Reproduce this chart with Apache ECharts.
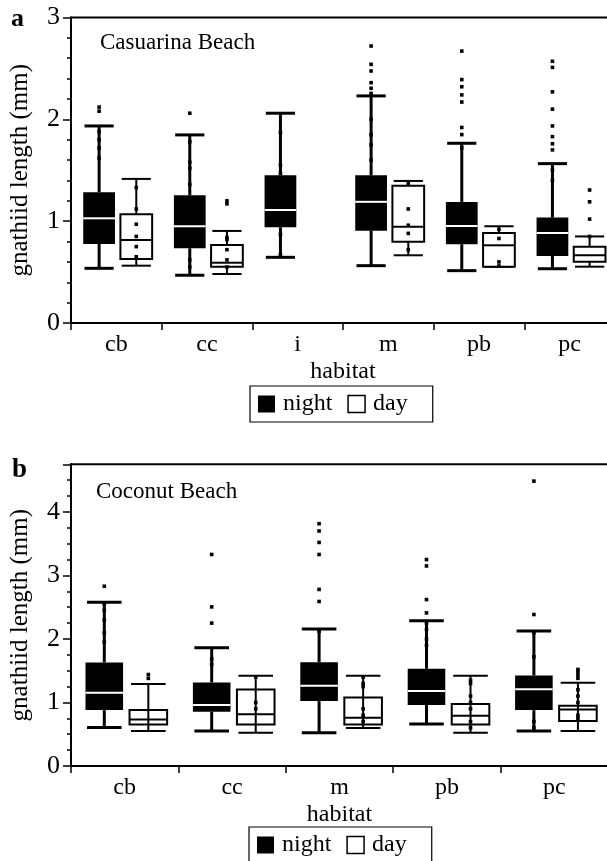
<!DOCTYPE html>
<html>
<head>
<meta charset="utf-8">
<script src="https://cdn.jsdelivr.net/npm/echarts@6/dist/echarts.min.js"></script>
<style>
html, body { margin: 0; padding: 0; background: #fff; }
#chart { width: 607px; height: 861px; }
</style>
</head>
<body>
<div id="chart"></div>
<script>
// panel a - Casuarina Beach
const habitatA = ['cb', 'cc', 'i', 'm', 'pb', 'pc'];
// [low whisker, q1, median, q3, high whisker]
const nightA = [
    [0.537, 0.776, 1.028, 1.284, 1.935],
    [0.469, 0.734, 0.95, 1.254, 1.847],
    [0.645, 0.94, 1.11, 1.45, 2.06],
    [0.563, 0.907, 1.19, 1.45, 2.23],
    [0.514, 0.773, 0.953, 1.189, 1.765],
    [0.533, 0.658, 0.884, 1.035, 1.565]
];
const dayA = [
    [0.563, 0.629, 0.815, 1.068, 1.415],
    [0.481, 0.553, 0.592, 0.766, 0.904],
    null,
    [0.665, 0.799, 0.946, 1.349, 1.395],
    [0.553, 0.553, 0.763, 0.884, 0.95],
    [0.553, 0.602, 0.665, 0.75, 0.85]
];
const nightDotsA = [
    [2.08, 2.12, 1.88, 1.80, 1.72, 1.62],
    [2.06, 1.78, 1.58, 1.52, 1.36, 0.62, 0.55],
    [1.87, 1.55, 1.47, 0.87, 0.67],
    [2.72, 2.54, 2.475, 2.36, 2.305, 2.255, 2.0, 1.85, 1.75, 1.6],
    [2.67, 2.39, 2.32, 2.24, 2.17, 1.92, 1.85, 1.72],
    [2.57, 2.51, 2.27, 2.10, 1.935, 1.83, 1.76, 1.70, 1.5, 1.4]
];
const dayDotsA = [
    [1.33, 1.12, 0.97, 0.85, 0.75, 0.65],
    [1.20, 1.17, 0.84, 0.82, 0.72, 0.62, 0.55],
    [],
    [1.37, 1.12, 0.96, 0.88, 0.72],
    [0.92, 0.83, 0.60, 0.56],
    [1.306, 1.19, 1.02, 0.85]
];

// panel b - Coconut Beach
const habitatB = ['cb', 'cc', 'm', 'pb', 'pc'];
const nightB = [
    [0.608, 0.88, 1.153, 1.63, 2.58],
    [0.55, 0.854, 0.959, 1.316, 1.86],
    [0.524, 1.022, 1.263, 1.635, 2.155],
    [0.66, 0.96, 1.18, 1.53, 2.285],
    [0.55, 0.88, 1.21, 1.425, 2.127]
];
const dayB = [
    [0.55, 0.655, 0.734, 0.88, 1.29],
    [0.524, 0.655, 0.813, 1.205, 1.42],
    [0.60, 0.655, 0.76, 1.08, 1.42],
    [0.524, 0.655, 0.79, 0.975, 1.42],
    [0.55, 0.71, 0.89, 0.95, 1.31]
];
const nightDotsB = [
    [2.83, 2.55, 2.45, 2.3, 2.1, 1.95],
    [3.33, 2.505, 2.25, 1.68, 1.6],
    [3.815, 3.70, 3.52, 3.33, 2.78, 2.59, 2.12],
    [3.25, 3.15, 2.62, 2.41, 2.25, 2.15, 2.0, 1.9],
    [4.485, 2.385, 2.1, 1.72, 0.7, 0.6]
];
const dayDotsB = [
    [1.44, 1.38],
    [1.4, 1.0, 0.9],
    [1.4, 1.3, 1.25, 0.9, 0.8, 0.7],
    [1.35, 1.3, 1.1, 1.0, 0.9, 0.7, 0.6],
    [1.52, 1.48, 1.43, 1.38, 1.2, 1.1, 1.0, 0.8, 0.75]
];

const yTicksA = [0, 1, 2, 3];
const yTicksB = [0, 1, 2, 3, 4];

const FONT = 'Liberation Serif';
const BOX_W = 0.35;
const OFFSET = { night: -0.19, day: 0.22 };

function boxData(list) {
    let out = [];
    list.forEach((b, i) => {
        if (b) out.push([i].concat(b));
    });
    return out;
}
function dotData(list) {
    let out = [];
    list.forEach((arr, i) => arr.forEach(v => out.push([i, v])));
    return out;
}

function boxRender(side, through) {
    return function (params, api) {
        const idx = api.value(0);
        const band = api.size([1, 0])[0];
        const w = band * BOX_W;
        const cx = api.coord([idx, 0])[0] + band * OFFSET[side];
        const y = [1, 2, 3, 4, 5].map(i => api.coord([idx, api.value(i)])[1]);
        const night = side === 'night';
        const lw = night ? 3 : 2;
        const cap = w * 0.92;
        const line = (x1, y1, x2, y2, color, width) => ({
            type: 'line',
            shape: { x1: x1, y1: y1, x2: x2, y2: y2 },
            style: { stroke: color, lineWidth: width }
        });
        let children = [
            line(cx, y[4], cx, y[3], '#000', lw),
            line(cx, y[1], cx, y[0], '#000', lw),
            line(cx - cap / 2, y[4], cx + cap / 2, y[4], '#000', lw),
            line(cx - cap / 2, y[0], cx + cap / 2, y[0], '#000', lw),
            {
                type: 'rect',
                shape: { x: cx - w / 2, y: y[3], width: w, height: y[1] - y[3] },
                style: night ? { fill: '#000' } : { fill: '#fff', stroke: '#000', lineWidth: 2 }
            }
        ];
        if (through) children.push(line(cx, y[3], cx, y[1], '#000', lw));
        children.push(line(cx - w / 2, y[2], cx + w / 2, y[2], night ? '#fff' : '#000', 2));
        return { type: 'group', children: children };
    };
}

function dotRender(side) {
    return function (params, api) {
        const idx = api.value(0);
        const band = api.size([1, 0])[0];
        const p = api.coord([idx, api.value(1)]);
        const cx = p[0] + band * OFFSET[side];
        return {
            type: 'rect',
            shape: { x: cx - 1.8, y: p[1] - 1.8, width: 3.6, height: 3.6 },
            style: { fill: '#000' }
        };
    };
}

function panelSeries(g, yIdx, nights, days, nDots, dDots, through) {
    return [
        {
            type: 'custom', name: 'night', xAxisIndex: g, yAxisIndex: yIdx, z: 2,
            renderItem: dotRender('night'), data: dotData(nDots)
        },
        {
            type: 'custom', name: 'night', xAxisIndex: g, yAxisIndex: yIdx, z: 3,
            itemStyle: { color: '#000' },
            renderItem: boxRender('night', false), data: boxData(nights),
            encode: { x: 0, y: [1, 2, 3, 4, 5] }
        },
        {
            type: 'custom', name: 'day', xAxisIndex: g, yAxisIndex: yIdx, z: 4,
            itemStyle: { color: '#fff', borderColor: '#000', borderWidth: 2 },
            renderItem: boxRender('day', through), data: boxData(days),
            encode: { x: 0, y: [1, 2, 3, 4, 5] }
        },
        {
            type: 'custom', name: 'day', xAxisIndex: g, yAxisIndex: yIdx, z: 5,
            renderItem: dotRender('day'), data: dotData(dDots)
        }
    ];
}

const txt = { color: '#000', fontFamily: FONT };
const axisLine = { show: true, lineStyle: { color: '#000', width: 2 } };

function catAxis(g, cats) {
    return {
        type: 'category', gridIndex: g, data: cats,
        name: 'habitat', nameLocation: 'middle', nameGap: 37,
        nameTextStyle: Object.assign({ fontSize: 24 }, txt),
        axisLine: axisLine,
        axisTick: { show: true, inside: false, length: 7, lineStyle: { color: '#000', width: 1.5 } },
        axisLabel: Object.assign({ fontSize: 24, margin: 10 }, txt),
        splitLine: { show: false }
    };
}

function legend(left, top) {
    return {
        left: left, top: top,
        orient: 'horizontal',
        padding: [6, 25, 6, 8],
        borderColor: '#000', borderWidth: 1.2,
        itemWidth: 17, itemHeight: 17, itemGap: 15,
        textStyle: Object.assign({ fontSize: 24, padding: [0, 0, 0, 3] }, txt),
        selectedMode: false,
        data: [
            { name: 'night', icon: 'rect', itemStyle: { color: '#000', borderWidth: 0 } },
            { name: 'day', icon: 'rect', itemStyle: { color: '#fff', borderColor: '#000', borderWidth: 1.5 } }
        ]
    };
}

const chart = echarts.init(document.getElementById('chart'));
chart.setOption({
    backgroundColor: '#fff',
    animation: false,
    title: [
        { text: 'a', left: 11, top: 6, padding: 0, textStyle: Object.assign({ fontSize: 26, fontWeight: 'bold' }, txt) },
        { text: 'Casuarina Beach', left: 100, top: 31, padding: 0, textStyle: Object.assign({ fontSize: 23, fontWeight: 'normal' }, txt) },
        { text: 'b', left: 12, top: 457, padding: 0, textStyle: Object.assign({ fontSize: 27, fontWeight: 'bold' }, txt) },
        { text: 'Coconut Beach', left: 96, top: 480, padding: 0, textStyle: Object.assign({ fontSize: 23, fontWeight: 'normal' }, txt) }
    ],
    legend: [legend(250, 386), legend(249, 827)],
    grid: [
        { left: 71, top: 17.5, right: -8, height: 305.5, show: true, borderColor: '#000', borderWidth: 2, outerBoundsMode: 'none' },
        { left: 71, top: 464.3, right: -1, height: 301.7, show: true, borderColor: '#000', borderWidth: 2, outerBoundsMode: 'none' }
    ],
    xAxis: [catAxis(0, habitatA), catAxis(1, habitatB)],
    yAxis: [
        {
            type: 'value', gridIndex: 0, position: 'left', min: 0, max: yTicksA[yTicksA.length - 1], interval: 1,
            name: 'gnathiid length (mm)', nameLocation: 'middle', nameGap: 38,
            nameTextStyle: Object.assign({ fontSize: 25 }, txt),
            axisLine: axisLine,
            axisTick: { show: true, inside: false, length: 8, lineStyle: { color: '#000', width: 1.5 } },
            minorTick: { show: true, splitNumber: 5, length: 4, lineStyle: { color: '#000', width: 1.5 } },
            axisLabel: Object.assign({ fontSize: 26, margin: 11 }, txt),
            splitLine: { show: false }
        },
        {
            type: 'value', gridIndex: 1, position: 'left', min: 0, max: 4.75, interval: 1,
            name: 'gnathiid length (mm)', nameLocation: 'middle', nameGap: 38,
            nameTextStyle: Object.assign({ fontSize: 25 }, txt),
            axisLine: axisLine,
            axisTick: { show: true, inside: false, length: 8, lineStyle: { color: '#000', width: 1.5 } },
            axisLabel: Object.assign({
                fontSize: 26, margin: 11,
                formatter: v => (yTicksB.indexOf(v) >= 0 ? String(v) : '')
            }, txt),
            splitLine: { show: false }
        },
        {
            // minor ticks for panel b (every 0.25)
            type: 'value', gridIndex: 1, position: 'left', min: 0, max: 4.75, interval: 0.25,
            axisLine: { show: false },
            axisTick: { show: true, inside: false, length: 4, lineStyle: { color: '#000', width: 1.5 } },
            axisLabel: { show: false },
            splitLine: { show: false }
        }
    ],
    series: [].concat(
        panelSeries(0, 0, nightA, dayA, nightDotsA, dayDotsA, false),
        panelSeries(1, 1, nightB, dayB, nightDotsB, dayDotsB, true)
    )
});
</script>
</body>
</html>
